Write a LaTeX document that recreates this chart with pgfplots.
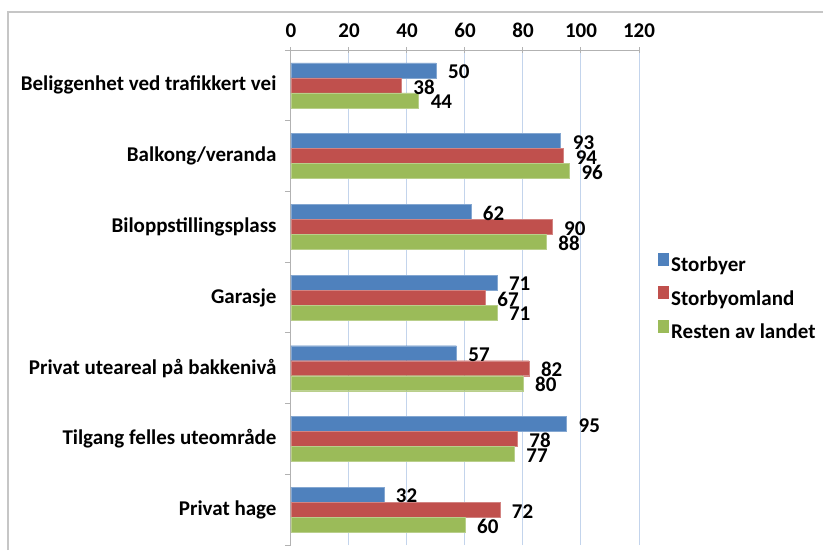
\documentclass[border=0pt]{standalone}
\usepackage{pgfplots}
\pgfplotsset{compat=1.18}
\usepackage{fontspec}
\setmainfont{Carlito}
\definecolor{sb}{HTML}{4F81BD}
\definecolor{so}{HTML}{C0504D}
\definecolor{rl}{HTML}{9BBB59}
\definecolor{gridblue}{HTML}{C3D4EC}
\newcommand{\bigbf}{\fontsize{21}{25}\selectfont\bfseries}
\begin{document}
\begin{tikzpicture}
\useasboundingbox (0pt,0pt) rectangle (823pt,550pt);
\draw[gray!45, line width=1.2pt] (8pt,0pt) -- (8pt,538pt) -- (823pt,538pt);
\begin{axis}[
    at={(291pt,5pt)}, anchor=south west,
    scale only axis, width=348pt, height=495pt,
    xbar, bar width=15pt,
    xmin=0, xmax=120, ymin=-0.5, ymax=6.5,
    axis x line*=top, axis y line*=left,
    axis line style={gray!60, line width=1pt},
    xtick={0,20,...,120},
    ytick={-0.5,0.5,...,6.5}, yticklabels={{},{},{},{},{},{},{},{}},
    extra y ticks={0,1,2,3,4,5,6},
    extra y tick labels={Privat hage,Tilgang felles uteområde,Privat uteareal på bakkenivå,Garasje,Biloppstillingsplass,Balkong/veranda,Beliggenhet ved trafikkert vei},
    extra y tick style={major tick length=0pt, yticklabel style={xshift=-11pt}},
    tick style={gray!60, line width=1pt},
    major tick length=6pt,
    xtick align=center, ytick align=outside,
    xmajorgrids, grid style={gridblue, line width=1pt},
    ticklabel style={font=\bigbf},
    xticklabel style={yshift=6pt},
    /pgf/number format/assume math mode=true,
    point meta=x,
    nodes near coords,
    nodes near coords style={font=\bigbf, anchor=west, inner sep=0pt, xshift=12pt, yshift=-1.5pt, text=black},
    legend style={at={(1,0.5)}, anchor=west, xshift=19pt, draw=none, fill=none,
        font=\bigbf, row sep=11pt, inner sep=0pt, cells={anchor=west}},
    legend image code/.code={\fill[#1,draw=none] (0pt,-0.5pt) rectangle (11pt,12.5pt);},
]
\addplot[fill=sb, draw=sb!70!white, bar shift=15pt] coordinates {
    (32,0) (95,1) (57,2) (71,3) (62,4) (93,5) (50,6)
};
\addlegendentry{Storbyer}
\addplot[fill=so, draw=so!70!white, bar shift=0pt] coordinates {
    (72,0) (78,1) (82,2) (67,3) (90,4) (94,5) (38,6)
};
\addlegendentry{Storbyomland}
\addplot[fill=rl, draw=rl!70!white, bar shift=-15pt] coordinates {
    (60,0) (77,1) (80,2) (71,3) (88,4) (96,5) (44,6)
};
\addlegendentry{Resten av landet}
\end{axis}
\end{tikzpicture}
\end{document}
